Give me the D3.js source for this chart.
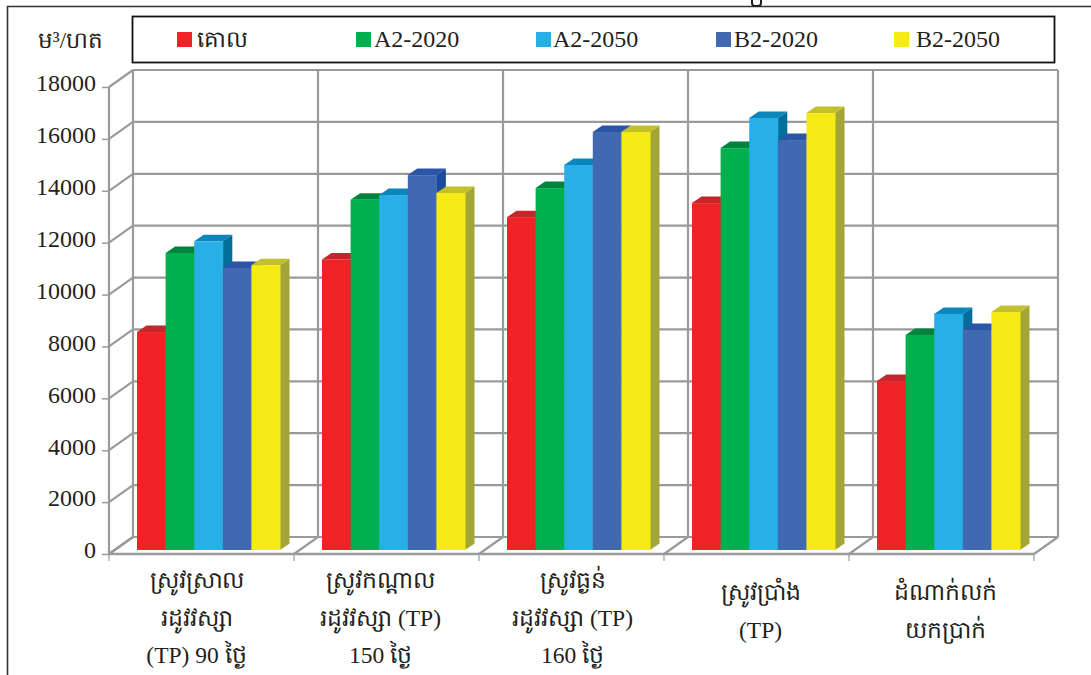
<!DOCTYPE html>
<html><head><meta charset="utf-8">
<script src="https://cdn.jsdelivr.net/npm/d3@7"></script>
<style>html,body{margin:0;padding:0;background:#fff}svg{display:block}text{font-family:"Liberation Serif",serif;fill:#231f20}</style>
</head><body><svg id="c" width="1091" height="675"></svg>
<script>
const categories=[["ស្រូវស្រាល","រដូវវស្សា","(TP) 90 ថ្ងៃ"],["ស្រូវកណ្ដាល","រដូវវស្សា (TP)","150 ថ្ងៃ"],["ស្រូវធ្ងន់","រដូវវស្សា (TP)","160 ថ្ងៃ"],["ស្រូវប្រាំង","(TP)"],["ដំណាក់លក់","យកប្រាក់"]];
const seriesNames=["គោល","A2-2020","A2-2050","B2-2020","B2-2050"];
const base=[8400,11200,12830,13370,6510];
const a2020=[11450,13500,13950,15490,8290];
const a2050=[11900,13680,14840,16650,9100];
const b2020=[10870,14450,16110,15800,8480];
const b2050=[10980,13760,16110,16840,9170];
const yTicks=[0,2000,4000,6000,8000,10000,12000,14000,16000,18000];
const faceColors=["#ee2326","#00b04f","#2aaee6","#4169b1","#f6eb14"];
const topColors=["#c4262b","#00843d","#0a86bb","#2b55a8","#c2c02d"];
const sideColors=["#a81f24","#00703a","#006f9c","#1c4a9c","#a3a637"];
const series=[base,a2020,a2050,b2020,b2050];

const svg=d3.select("#c");
const grid="#9a9a9a";
const depthX=24,depthY=17;
const x=d3.scaleBand().domain(d3.range(5)).range([109,1034]).paddingInner(0).paddingOuter(0);
const y=d3.scaleLinear().domain([0,18000]).range([554,87]);
const inner=d3.scaleBand().domain(d3.range(5)).range([28,171]);
const barDx=9.5,barDy=6.5;
const barBaseShift=-4;

// outer frame
svg.append("path").attr("d","M7.5,675V6.5H1091").attr("fill","none").attr("stroke","#333").attr("stroke-width",1.6);
// clipped title glyph
svg.append("path").attr("d","M752,0v3q0,3 3,3h3q3,0 3,-3v-3").attr("fill","none").attr("stroke","#231f20").attr("stroke-width",2);

// back wall
const gWall=svg.append("g").attr("fill","none").attr("stroke",grid).attr("stroke-width",2.2);
yTicks.forEach(t=>{
  gWall.append("line").attr("x1",x.range()[0]+depthX).attr("x2",x.range()[1]+depthX).attr("y1",y(t)-depthY).attr("y2",y(t)-depthY);
  gWall.append("line").attr("x1",x.range()[0]).attr("x2",x.range()[0]+depthX).attr("y1",y(t)).attr("y2",y(t)-depthY);
});
d3.range(6).forEach(i=>{
  const px=x.range()[0]+i*x.step();
  gWall.append("line").attr("x1",px+depthX).attr("x2",px+depthX).attr("y1",y(0)-depthY).attr("y2",y(18000)-depthY);
  gWall.append("line").attr("x1",px).attr("x2",px+depthX).attr("y1",y(0)).attr("y2",y(0)-depthY);
});
// left side front edge & floor front edge
gWall.append("line").attr("x1",109).attr("x2",109).attr("y1",y(0)).attr("y2",y(18000));
gWall.append("line").attr("x1",109).attr("x2",x.range()[1]).attr("y1",y(0)).attr("y2",y(0)).attr("stroke-width",2.6);

// axes
const axisY=d3.axisLeft(y).tickValues(yTicks).tickSize(7).tickPadding(6).tickFormat(d3.format("d"));
const gy=svg.append("g").attr("transform","translate(109,0)").call(axisY);
gy.select(".domain").remove();
gy.selectAll("line").attr("stroke",grid).attr("stroke-width",1.5);
gy.selectAll("text").attr("font-size",24).attr("font-family","Liberation Serif").attr("dy","0.16em").attr("fill","#231f20");
// category ticks
d3.range(6).forEach(i=>{
  const px=x.range()[0]+i*x.step();
  svg.append("line").attr("x1",px).attr("x2",px).attr("y1",y(0)).attr("y2",y(0)+7).attr("stroke",grid).attr("stroke-width",1.2);
});

// bars
categories.forEach((c,ci)=>{
  const g=svg.append("g").attr("transform",`translate(${x(ci)},0)`);
  series.forEach((vals,si)=>{
    const x0=inner(si),w=inner.bandwidth(),y1=y(vals[ci])+barBaseShift,y0=y(0)+barBaseShift;
    g.append("path").attr("fill",sideColors[si]).attr("d",`M${x0+w},${y1}l${barDx},${-barDy}V${y0-barDy}l${-barDx},${barDy}Z`);
    g.append("path").attr("fill",topColors[si]).attr("d",`M${x0},${y1}l${barDx},${-barDy}h${w}l${-barDx},${barDy}Z`);
    g.append("rect").attr("x",x0).attr("y",y1).attr("width",w+0.5).attr("height",y0-y1).attr("fill",faceColors[si]);
  });
});

// category labels
const labelShift=[0,-1,6,9,9];
categories.forEach((lines,ci)=>{
  const cx=x(ci)+x.step()/2-5+labelShift[ci];
  const startY=lines.length===3?580:592;
  lines.forEach((t,li)=>{
    svg.append("text").attr("x",cx).attr("y",startY+li*37.5).attr("dy","0.35em").attr("text-anchor","middle").attr("font-size",23.5)
      .attr("font-family","'Liberation Serif','Noto Sans Khmer','Khmer OS',serif").text(t);
  });
});

// legend
svg.append("rect").attr("x",132.5).attr("y",16.5).attr("width",922).attr("height",46).attr("fill","#fff").attr("stroke","#111").attr("stroke-width",1.8);
const legendX=[177,356,536,716,894];
const legendText=[197,374,553,734,916];
seriesNames.forEach((n,i)=>{
  svg.append("rect").attr("x",legendX[i]).attr("y",32).attr("width",15).attr("height",15).attr("fill",faceColors[i]);
  svg.append("text").attr("x",legendText[i]).attr("y",39).attr("dy","0.35em").attr("font-size",i===0?23:24).text(n);
});
svg.append("text").attr("x",70.5).attr("y",40).attr("dy","0.35em").attr("text-anchor","middle").attr("font-size",23).text("ម³/ហត");
</script></body></html>
